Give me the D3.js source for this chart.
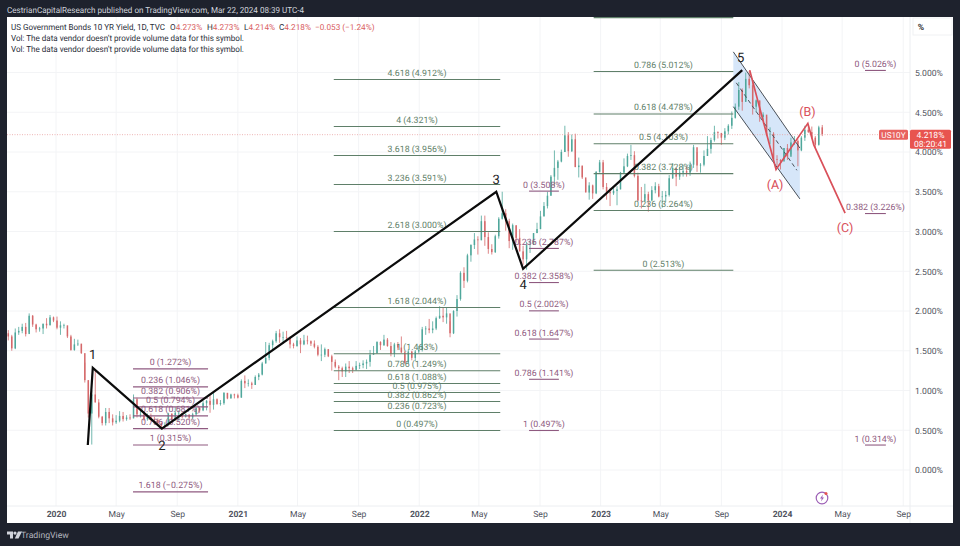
<!DOCTYPE html>
<html>
<head>
<meta charset="utf-8">
<script src="https://cdn.jsdelivr.net/npm/d3@7"></script>
<style>
  html, body { margin: 0; padding: 0; background: #1e222d; }
  svg { display: block; font-family: Roboto, sans-serif; text-rendering: geometricPrecision; }
  .axis path, .axis line { display: none; }
</style>
</head>
<body>
<svg id="chart" width="960" height="546"></svg>
<script>
// weekly bars, first one ends 2019-09-13
const firstWeek = new Date(2019, 8, 13);

const closes = [
  1.90,1.72,1.68,1.53,1.73,1.75,1.80,1.71,1.94,1.83,1.77,1.78,1.84,1.82,1.92,1.88,
  1.79,1.82,1.82,1.68,1.51,1.58,1.59,1.47,1.13,0.71,0.95,0.85,0.67,0.59,0.73,0.65,0.60,
  0.62,0.68,0.64,0.66,0.65,0.89,0.70,0.70,0.64,0.67,0.64,0.63,0.59,0.55,0.56,0.71,0.63,0.72,
  0.72,0.67,0.70,0.66,0.70,0.78,0.75,0.84,0.87,0.82,0.89,0.83,0.84,0.97,0.90,0.95,0.94,
  0.91,1.12,1.09,1.09,1.07,1.17,1.20,1.34,1.41,1.57,1.62,1.72,1.67,1.67,1.66,1.58,1.56,1.63,
  1.58,1.63,1.62,1.59,1.55,1.45,1.45,1.52,1.43,1.36,1.30,1.28,1.24,1.30,1.28,1.26,1.31,
  1.32,1.34,1.36,1.45,1.47,1.61,1.57,1.64,1.56,1.46,1.58,1.54,1.48,1.35,1.49,1.41,1.49,1.51,
  1.77,1.78,1.76,1.78,1.91,1.94,1.92,1.97,1.72,2.00,2.15,2.48,2.38,2.70,2.83,2.90,2.89,
  3.13,2.93,2.78,2.74,2.94,3.16,3.23,3.13,2.88,3.08,2.92,2.75,2.65,2.83,2.84,2.98,3.03,
  3.19,3.32,3.45,3.69,3.80,3.88,4.00,4.21,4.01,4.16,3.81,3.83,3.68,3.49,3.58,3.48,3.75,3.87,
  3.56,3.50,3.48,3.51,3.53,3.74,3.82,3.95,3.96,3.70,3.39,3.38,3.47,3.39,3.52,3.57,3.44,
  3.44,3.46,3.67,3.80,3.69,3.74,3.76,3.74,3.84,4.06,3.83,3.84,3.95,4.04,4.15,4.25,4.24,
  4.18,4.26,4.33,4.43,4.57,4.78,4.63,4.92,4.84,4.57,4.65,4.44,4.47,4.22,4.23,3.91,3.90,3.88,
  4.05,3.94,4.12,4.14,4.02,4.18,4.28,4.25,4.18,4.09,4.31,4.22
];
const highs = [
  1.91,1.82,1.76,1.70,1.78,1.80,1.84,1.85,1.97,1.95,1.84,1.80,1.84,1.91,1.95,1.93,
  1.93,1.87,1.84,1.80,1.70,1.65,1.64,1.58,1.35,1.13,1.00,1.27,0.89,0.68,0.78,0.78,0.70,
  0.69,0.74,0.73,0.69,0.70,0.95,0.91,0.77,0.73,0.71,0.71,0.67,0.65,0.60,0.60,0.72,0.71,0.79,
  0.75,0.72,0.71,0.69,0.72,0.79,0.79,0.87,0.88,0.95,0.97,0.90,0.88,0.98,0.97,0.96,0.96,
  0.96,1.14,1.19,1.14,1.11,1.19,1.22,1.36,1.61,1.60,1.64,1.75,1.77,1.74,1.75,1.68,1.60,1.68,
  1.66,1.70,1.69,1.63,1.63,1.57,1.58,1.54,1.52,1.45,1.39,1.32,1.30,1.34,1.37,1.30,1.37,
  1.35,1.38,1.39,1.51,1.56,1.62,1.62,1.70,1.66,1.61,1.60,1.61,1.68,1.50,1.52,1.50,1.51,1.56,
  1.80,1.81,1.90,1.87,1.93,2.06,2.05,2.05,1.87,2.01,2.20,2.50,2.55,2.72,2.84,2.98,2.94,
  3.20,3.20,2.99,2.84,2.96,3.18,3.50,3.28,3.16,3.10,3.07,3.03,2.82,2.87,2.89,2.98,3.11,
  3.26,3.37,3.50,3.71,4.02,3.90,4.03,4.33,4.25,4.22,4.23,3.93,3.82,3.65,3.62,3.59,3.76,3.90,
  3.90,3.61,3.55,3.57,3.57,3.75,3.92,3.98,4.09,4.01,3.74,3.56,3.60,3.50,3.57,3.62,3.60,
  3.51,3.51,3.71,3.86,3.71,3.81,3.84,3.82,3.88,4.09,4.00,3.86,4.02,4.20,4.18,4.33,4.26,
  4.22,4.30,4.35,4.51,4.61,4.88,4.80,5.00,5.02,4.90,4.66,4.64,4.50,4.44,4.31,4.25,3.96,3.91,
  4.05,4.10,4.18,4.20,4.16,4.20,4.33,4.35,4.32,4.20,4.33,4.34
];
const lows = [
  1.56,1.71,1.63,1.50,1.52,1.70,1.72,1.68,1.73,1.80,1.73,1.74,1.71,1.78,1.82,1.86,
  1.77,1.70,1.78,1.66,1.50,1.50,1.56,1.46,1.10,0.66,0.32,0.85,0.65,0.56,0.56,0.59,0.56,
  0.58,0.60,0.61,0.62,0.63,0.65,0.66,0.66,0.62,0.62,0.61,0.59,0.57,0.53,0.51,0.56,0.62,0.62,
  0.62,0.65,0.66,0.64,0.64,0.68,0.72,0.74,0.75,0.72,0.76,0.82,0.81,0.82,0.89,0.90,0.90,
  0.90,0.91,1.03,1.05,1.02,1.07,1.13,1.19,1.34,1.38,1.50,1.60,1.60,1.59,1.62,1.53,1.53,1.55,
  1.47,1.57,1.58,1.56,1.53,1.43,1.37,1.42,1.42,1.25,1.28,1.13,1.17,1.17,1.22,1.22,1.25,
  1.27,1.28,1.27,1.30,1.45,1.46,1.51,1.56,1.55,1.43,1.42,1.51,1.47,1.33,1.35,1.38,1.37,1.47,
  1.49,1.70,1.72,1.72,1.76,1.90,1.86,1.84,1.67,1.71,1.93,2.13,2.29,2.36,2.62,2.78,2.71,
  2.89,2.82,2.72,2.71,2.73,2.91,3.15,3.01,2.79,2.77,2.86,2.75,2.58,2.52,2.73,2.83,2.98,
  3.03,3.19,3.29,3.45,3.57,3.65,3.87,4.00,3.94,4.00,3.81,3.68,3.66,3.50,3.40,3.41,3.47,3.74,
  3.53,3.40,3.32,3.46,3.33,3.53,3.73,3.81,3.90,3.68,3.38,3.29,3.42,3.25,3.38,3.48,3.43,
  3.30,3.37,3.44,3.66,3.57,3.65,3.69,3.69,3.70,3.80,3.75,3.74,3.82,3.95,3.98,4.13,4.17,
  4.09,4.15,4.22,4.29,4.42,4.53,4.52,4.65,4.80,4.47,4.50,4.38,4.40,4.20,4.10,3.91,3.83,3.78,
  3.91,3.90,3.97,4.09,3.82,4.01,4.14,4.24,4.17,4.05,4.08,4.20
];

const yTicks = [0, 0.5, 1, 1.5, 2, 2.5, 3, 3.5, 4, 4.5, 5];
const xTicks = [
  new Date(2020, 0, 1), new Date(2020, 4, 1), new Date(2020, 8, 1),
  new Date(2021, 0, 1), new Date(2021, 4, 1), new Date(2021, 8, 1),
  new Date(2022, 0, 1), new Date(2022, 4, 1), new Date(2022, 8, 1),
  new Date(2023, 0, 1), new Date(2023, 4, 1), new Date(2023, 8, 1),
  new Date(2024, 0, 1), new Date(2024, 4, 1), new Date(2024, 8, 1)
];

// fib retracements: [ratio, value]
const fibA = [['0', 1.272], ['0.236', 1.046], ['0.382', 0.906], ['0.5', 0.794], ['0.618', 0.681], ['0.786', 0.520], ['1', 0.315], ['1.618', -0.275]];
const fibB = [['4.618', 4.912], ['4', 4.321], ['3.618', 3.956], ['3.236', 3.591], ['2.618', 3.000], ['1.618', 2.044], ['1', 1.463], ['0.786', 1.249], ['0.618', 1.088], ['0.5', 0.975], ['0.382', 0.862], ['0.236', 0.723], ['0', 0.497]];
const fibC = [['1', 5.69], ['0.786', 5.012], ['0.618', 4.478], ['0.5', 4.103], ['0.382', 3.728], ['0.236', 3.264], ['0', 2.513]];
const fibD = [['0', 3.508], ['0.236', 2.787], ['0.382', 2.358], ['0.5', 2.002], ['0.618', 1.647], ['0.786', 1.141], ['1', 0.497]];
const fibE = [['0', 5.026], ['0.382', 3.226], ['1', 0.314]];

const wavePoints = [['2020-03-05', 0.315], ['2020-03-15', 1.285], ['2020-08-01', 0.52], ['2022-06-05', 3.50], ['2022-07-29', 2.53], ['2023-10-13', 5.03]];
const correctionPoints = [['2023-10-28', 5.03], ['2023-12-20', 3.78], ['2024-02-22', 4.36], ['2024-03-05', 4.09], ['2024-05-07', 3.23]];

const waveLabels = [['1', '2020-03-15', 1.44], ['2', '2020-08-01', 0.30], ['3', '2022-06-05', 3.64], ['4', '2022-07-29', 2.32], ['5', '2023-10-10', 5.17]];
const correctionLabels = [['(A)', '2023-12-18', 3.58], ['(B)', '2024-02-21', 4.50], ['(C)', '2024-05-07', 3.03]];

const channelTop = [['2023-09-25', 5.26], ['2024-02-06', 4.05]];
const channelBottom = [['2023-09-25', 4.57], ['2024-02-06', 3.41]];
const channelMid = [['2023-10-01', 4.87], ['2024-01-31', 3.77]];

const lastPrice = 4.218;
const titleText = 'US Government Bonds 10 YR Yield, 1D, TVC';
const ohlc = [['O', '4.273%', 170], ['H', '4.273%', 207], ['L', '4.214%', 244], ['C', '4.218%', 279]];
const changeText = '\u22120.053 (\u22121.24%)';

const dark = '#1e222d';
const up = '#4fa79b';
const down = '#d5686a';
const red = '#d9505a';
const purple = '#8f5a80';
const green = '#5f7f69';
const axisText = '#50535e';

const panel = { left: 7, right: 953, top: 17, bottom: 523, plotRight: 910, plotBottom: 506 };

const parseDay = d3.timeParse('%Y-%m-%d');
const x = d3.scaleTime()
  .domain([new Date(2020, 0, 1), new Date(2024, 0, 1)])
  .range([56, 782]);
const y = d3.scaleLinear().domain([0, 5]).range([470, 72.5]);

const svg = d3.select('#chart');

svg.append('rect').attr('width', 960).attr('height', 546).attr('fill', dark);
svg.append('rect')
  .attr('x', panel.left).attr('y', panel.top)
  .attr('width', panel.right - panel.left).attr('height', panel.bottom - panel.top)
  .attr('fill', '#fff');

svg.append('defs').append('clipPath').attr('id', 'plot')
  .append('rect')
  .attr('x', panel.left).attr('y', panel.top)
  .attr('width', panel.plotRight - panel.left).attr('height', panel.plotBottom - panel.top);

const plot = svg.append('g').attr('clip-path', 'url(#plot)');

// grid
plot.selectAll('.gx').data(xTicks).join('line')
  .attr('x1', (d) => x(d)).attr('x2', (d) => x(d))
  .attr('y1', panel.top).attr('y2', panel.plotBottom)
  .attr('stroke', '#f3f4f6');
plot.selectAll('.gy').data(yTicks).join('line')
  .attr('x1', panel.left).attr('x2', panel.plotRight)
  .attr('y1', (d) => y(d)).attr('y2', (d) => y(d))
  .attr('stroke', '#f3f4f6');

svg.append('line')
  .attr('x1', panel.plotRight).attr('x2', panel.plotRight)
  .attr('y1', panel.top).attr('y2', panel.bottom)
  .attr('stroke', '#eceef1');
svg.append('line')
  .attr('x1', panel.left).attr('x2', panel.right)
  .attr('y1', panel.plotBottom).attr('y2', panel.plotBottom)
  .attr('stroke', '#eceef1');

// channel
const pts = (list) => list.map(([d, v]) => [x(parseDay(d)), y(v)]);
plot.append('polygon')
  .attr('points', pts(channelTop).concat(pts(channelBottom).reverse()).join(' '))
  .attr('fill', '#d6e6f9');

// candles
const bars = closes.map((c, i) => ({
  date: d3.timeDay.offset(firstWeek, i * 7),
  open: i ? closes[i - 1] : c,
  close: c,
  high: highs[i],
  low: lows[i]
}));
const barColor = (d) => (d.close >= d.open ? up : down);

plot.selectAll('.wick').data(bars).join('line')
  .attr('x1', (d) => x(d.date)).attr('x2', (d) => x(d.date))
  .attr('y1', (d) => y(d.high)).attr('y2', (d) => y(d.low))
  .attr('stroke', barColor).attr('stroke-width', 0.8);
plot.selectAll('.body').data(bars).join('rect')
  .attr('x', (d) => x(d.date) - 0.75)
  .attr('width', 1.5)
  .attr('y', (d) => Math.min(y(d.open), y(d.close)))
  .attr('height', (d) => Math.max(0.6, Math.abs(y(d.open) - y(d.close))))
  .attr('fill', barColor);

// last price line
plot.append('line')
  .attr('x1', panel.left).attr('x2', panel.plotRight)
  .attr('y1', y(lastPrice)).attr('y2', y(lastPrice))
  .attr('stroke', '#e9a3a3').attr('stroke-width', 0.8).attr('stroke-dasharray', '1 1.5');

// fib levels
function drawFib(levels, from, to, color) {
  const g = plot.append('g');
  const x0 = x(parseDay(from));
  const x1 = x(parseDay(to));
  levels.forEach(([ratio, value]) => {
    g.append('line')
      .attr('x1', x0).attr('x2', x1)
      .attr('y1', y(value)).attr('y2', y(value))
      .attr('stroke', color).attr('stroke-width', 1.1);
    const txt = value.toFixed(3).replace('-', '\u2212');
    g.append('text')
      .attr('x', (x0 + x1) / 2).attr('y', y(value) - 3.5)
      .attr('text-anchor', 'middle')
      .attr('font-size', 8.8)
      .attr('fill', color)
      .text(`${ratio} (${txt}%)`);
  });
}
drawFib(fibA, '2020-06-04', '2020-11-02', purple);
drawFib(fibB, '2021-07-13', '2022-06-13', green);
drawFib(fibC, '2022-12-18', '2023-09-25', green);
drawFib(fibD, '2022-08-10', '2022-10-09', purple);
drawFib(fibE, '2024-06-16', '2024-07-28', purple);

const lineGen = d3.line();
plot.append('path').attr('d', lineGen(pts(channelTop))).attr('fill', 'none').attr('stroke', '#4a5058').attr('stroke-width', 1);
plot.append('path').attr('d', lineGen(pts(channelBottom))).attr('fill', 'none').attr('stroke', '#4a5058').attr('stroke-width', 1);
plot.append('path').attr('d', lineGen(pts(channelMid))).attr('fill', 'none').attr('stroke', '#4a5058').attr('stroke-width', 1).attr('stroke-dasharray', '4 3');

plot.append('path').attr('d', lineGen(pts(wavePoints)))
  .attr('fill', 'none').attr('stroke', '#0b0b0b').attr('stroke-width', 2.2).attr('stroke-linejoin', 'miter');
plot.append('path').attr('d', lineGen(pts(correctionPoints)))
  .attr('fill', 'none').attr('stroke', red).attr('stroke-width', 1.7);

plot.selectAll('.wave').data(waveLabels).join('text')
  .attr('x', (d) => x(parseDay(d[1]))).attr('y', (d) => y(d[2]))
  .attr('text-anchor', 'middle').attr('dominant-baseline', 'middle')
  .attr('font-size', 13).attr('fill', '#222').text((d) => d[0]);
plot.selectAll('.corr').data(correctionLabels).join('text')
  .attr('x', (d) => x(parseDay(d[1]))).attr('y', (d) => y(d[2]))
  .attr('text-anchor', 'middle').attr('dominant-baseline', 'middle')
  .attr('font-size', 12.5).attr('fill', red).text((d) => d[0]);

// axes
const xAxis = d3.axisBottom(x).tickValues(xTicks).tickSize(0).tickPadding(0)
  .tickFormat((d) => (d.getMonth() === 0 ? d3.timeFormat('%Y')(d) : d3.timeFormat('%b')(d)));
svg.append('g').attr('class', 'axis')
  .attr('transform', `translate(0,${panel.plotBottom + 5})`)
  .call(xAxis)
  .call((g) => g.selectAll('text')
    .attr('font-size', 8.6)
    .attr('fill', axisText)
    .attr('font-family', 'Roboto, sans-serif')
    .attr('font-weight', (d) => (d.getMonth() === 0 ? 700 : 400)));

const yAxis = d3.axisRight(y).tickValues(yTicks).tickSize(0).tickPadding(0)
  .tickFormat((d) => `${d.toFixed(3)}%`);
svg.append('g').attr('class', 'axis')
  .attr('transform', `translate(${panel.plotRight + 5},0)`)
  .call(yAxis)
  .call((g) => g.selectAll('text')
    .attr('font-size', 8.6)
    .attr('fill', axisText)
    .attr('font-family', 'Roboto, sans-serif'));

// percent button
svg.append('rect').attr('x', panel.plotRight + 3).attr('y', panel.top + 1)
  .attr('width', 39).attr('height', 17).attr('fill', '#fff').attr('stroke', '#f0f1f3');
svg.append('text').attr('x', 921).attr('y', 30).attr('text-anchor', 'middle')
  .attr('font-size', 8.6).attr('font-weight', 700).attr('fill', '#333').text('%');

// price tags
svg.append('rect').attr('x', 879).attr('y', y(lastPrice) - 5).attr('width', 29).attr('height', 10).attr('rx', 1.5).attr('fill', '#e8625f');
svg.append('text').attr('x', 893.5).attr('y', y(lastPrice) + 3).attr('text-anchor', 'middle')
  .attr('font-size', 8.2).attr('fill', '#fff').text('US10Y');
svg.append('rect').attr('x', panel.plotRight).attr('y', y(lastPrice) - 5).attr('width', 41).attr('height', 19).attr('rx', 1.5).attr('fill', '#e8544f');
svg.append('text').attr('x', 930.5).attr('y', y(lastPrice) + 3).attr('text-anchor', 'middle')
  .attr('font-size', 8.6).attr('fill', '#fff').text(`${lastPrice.toFixed(3)}%`);
svg.append('text').attr('x', 930.5).attr('y', y(lastPrice) + 12).attr('text-anchor', 'middle')
  .attr('font-size', 8.6).attr('fill', '#fff').text('08:20:41');

// header
svg.append('text').attr('x', 7).attr('y', 13)
  .attr('font-size', 8.4).attr('fill', '#d1d4dc')
  .attr('textLength', 297).attr('lengthAdjust', 'spacingAndGlyphs')
  .text('CestrianCapitalResearch published on TradingView.com, Mar 22, 2024 08:39 UTC-4');

svg.append('text').attr('x', 11).attr('y', 30).attr('font-size', 8.4).attr('fill', '#2a2e39')
  .attr('textLength', 154).attr('lengthAdjust', 'spacingAndGlyphs').text(titleText);
ohlc.forEach(([k, v, at]) => {
  const t = svg.append('text').attr('x', at).attr('y', 30).attr('font-size', 8.2).attr('fill', '#2a2e39');
  t.append('tspan').text(k);
  t.append('tspan').attr('fill', '#d9605f').text(v);
});
svg.append('text').attr('x', 315).attr('y', 30).attr('font-size', 8.2).attr('fill', '#d9605f').text(changeText);

['Vol: The data vendor doesn\u2019t provide volume data for this symbol.',
 'Vol: The data vendor doesn\u2019t provide volume data for this symbol.'].forEach((t, i) => {
  svg.append('text').attr('x', 11).attr('y', 41 + i * 11).attr('font-size', 8.4).attr('fill', '#2a2e39')
    .attr('textLength', 233).attr('lengthAdjust', 'spacingAndGlyphs').text(t);
});

// lightning icon
const icon = svg.append('g').attr('transform', 'translate(822,498)');
icon.append('circle').attr('r', 5.8).attr('fill', 'none').attr('stroke', '#9c5fb5').attr('stroke-width', 1.2);
icon.append('path').attr('d', 'M1,-3.6 L-2,0.6 L-0.2,0.6 L-1,3.6 L2,-0.6 L0.2,-0.6 Z').attr('fill', '#9c5fb5');
icon.append('circle').attr('cx', 4).attr('cy', -4.6).attr('r', 1.5).attr('fill', '#e8544f');

// footer
const logo = svg.append('g').attr('transform', 'translate(7,531.5)').attr('fill', '#d1d4dc');
logo.append('path').attr('d', 'M0,0 H6 V7 H3 V3 H0 Z');
logo.append('circle').attr('cx', 8).attr('cy', 1.6).attr('r', 1.6);
logo.append('path').attr('d', 'M11,0 H15 L11.5,7 H7.8 Z');
svg.append('text').attr('x', 21).attr('y', 538).attr('font-size', 8.7).attr('fill', '#b2b5be').text('TradingView');
</script>
</body>
</html>
